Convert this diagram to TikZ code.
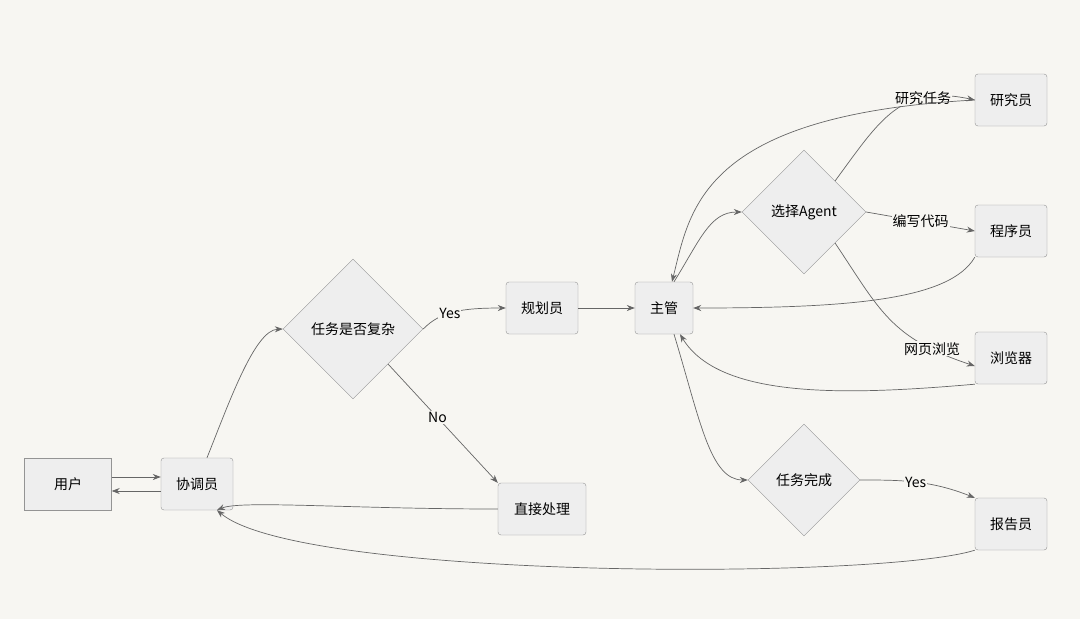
\documentclass[tikz,border=0pt]{standalone}
\usepackage{fontspec}
\setmainfont{Noto Sans CJK SC}
\usetikzlibrary{shapes.geometric, arrows.meta}
\definecolor{bgc}{HTML}{F7F6F2}
\definecolor{nodec}{HTML}{EEEEEE}
\definecolor{edgec}{HTML}{666666}
\tikzstyle{blockr} = [rectangle, draw=edgec!70, rounded corners=3pt, fill=nodec, minimum height=52pt, font=\fontsize{14}{16}\selectfont]
\tikzstyle{blocks} = [rectangle, draw=edgec!70, fill=nodec, minimum height=52pt, minimum width=87pt, font=\fontsize{14}{16}\selectfont]
\tikzstyle{decide} = [diamond, draw=edgec!70, fill=nodec, inner sep=0pt, font=\fontsize{14}{16}\selectfont]
\tikzstyle{lbl} = [fill=bgc, inner sep=1pt, font=\fontsize{14}{16}\selectfont]
\tikzstyle{line} = [draw=edgec, -{Stealth[length=8pt,width=6pt]}, line width=0.7pt]
\begin{document}
\begin{tikzpicture}[x=1pt, y=-1pt]
\fill[bgc] (0,0) rectangle (1080,619);
\useasboundingbox (0,0) rectangle (1080,619);

\node [blocks] (U) at (68,484) {用户};
\node [blockr, minimum width=72pt] (C) at (197,484) {协调员};
\node [decide, minimum width=140pt, minimum height=140pt] (Q) at (353,329) {任务是否复杂};
\node [blockr, minimum width=72pt] (P) at (542,308) {规划员};
\node [blockr, minimum width=58pt] (M) at (664,308) {主管};
\node [decide, minimum width=124pt, minimum height=124pt] (A) at (804,212) {选择Agent};
\node [blockr, minimum width=72pt] (R) at (1011,100) {研究员};
\node [blockr, minimum width=72pt] (D) at (1011,231) {程序员};
\node [blockr, minimum width=72pt] (B) at (1011,358) {浏览器};
\node [decide, minimum width=112pt, minimum height=112pt] (F) at (804,480) {任务完成};
\node [blockr, minimum width=72pt] (W) at (1011,524) {报告员};
\node [blockr, minimum width=88pt] (H) at (542,509) {直接处理};

\path [line] ([yshift=7pt]U.east) -- ([yshift=7pt]C.west);
\path [line] ([yshift=-7pt]C.west) -- ([yshift=-7pt]U.east);
\path [line] ([xshift=10pt]C.north) .. controls (230,400) and (255,330) .. (Q.west);
\path [line] (Q.east) .. controls (440,312) and (460,308) .. node[lbl, pos=0.45] {Yes} (P.west);
\path [line] (Q.south east) -- node[lbl, pos=0.45] {No} (H.north west);
\path [line] (H.west) .. controls (350,509) and (240,500) .. ([xshift=20pt]C.south);
\path [line] (P.east) -- (M.west);
\path [line] ([xshift=10pt]M.north) .. controls (700,240) and (710,212) .. (A.west);
\path [line] (A.north east) .. controls (880,120) and (900,84) .. node[lbl, pos=0.72] {研究任务} (R.west);
\path [line] (A.east) -- node[lbl] {编写代码} (D.west);
\path [line] (A.south east) .. controls (880,310) and (890,338) .. node[lbl, pos=0.8] {网页浏览} ([yshift=-8pt]B.west);
\path [line] (R.west) .. controls (700,115) and (690,210) .. ([xshift=8pt]M.north);
\path [line] (D.south west) .. controls (950,300) and (850,308) .. (M.east);
\path [line] (B.south west) .. controls (850,395) and (720,400) .. ([xshift=16pt]M.south);
\path [line] ([xshift=10pt]M.south) .. controls (700,420) and (710,480) .. (F.west);
\path [line] (F.east) .. controls (900,480) and (930,480) .. node[lbl, pos=0.5] {Yes} (W.north west);
\path [line] (W.south west) .. controls (880,580) and (300,580) .. ([xshift=20pt]C.south);
\end{tikzpicture}
\end{document}
